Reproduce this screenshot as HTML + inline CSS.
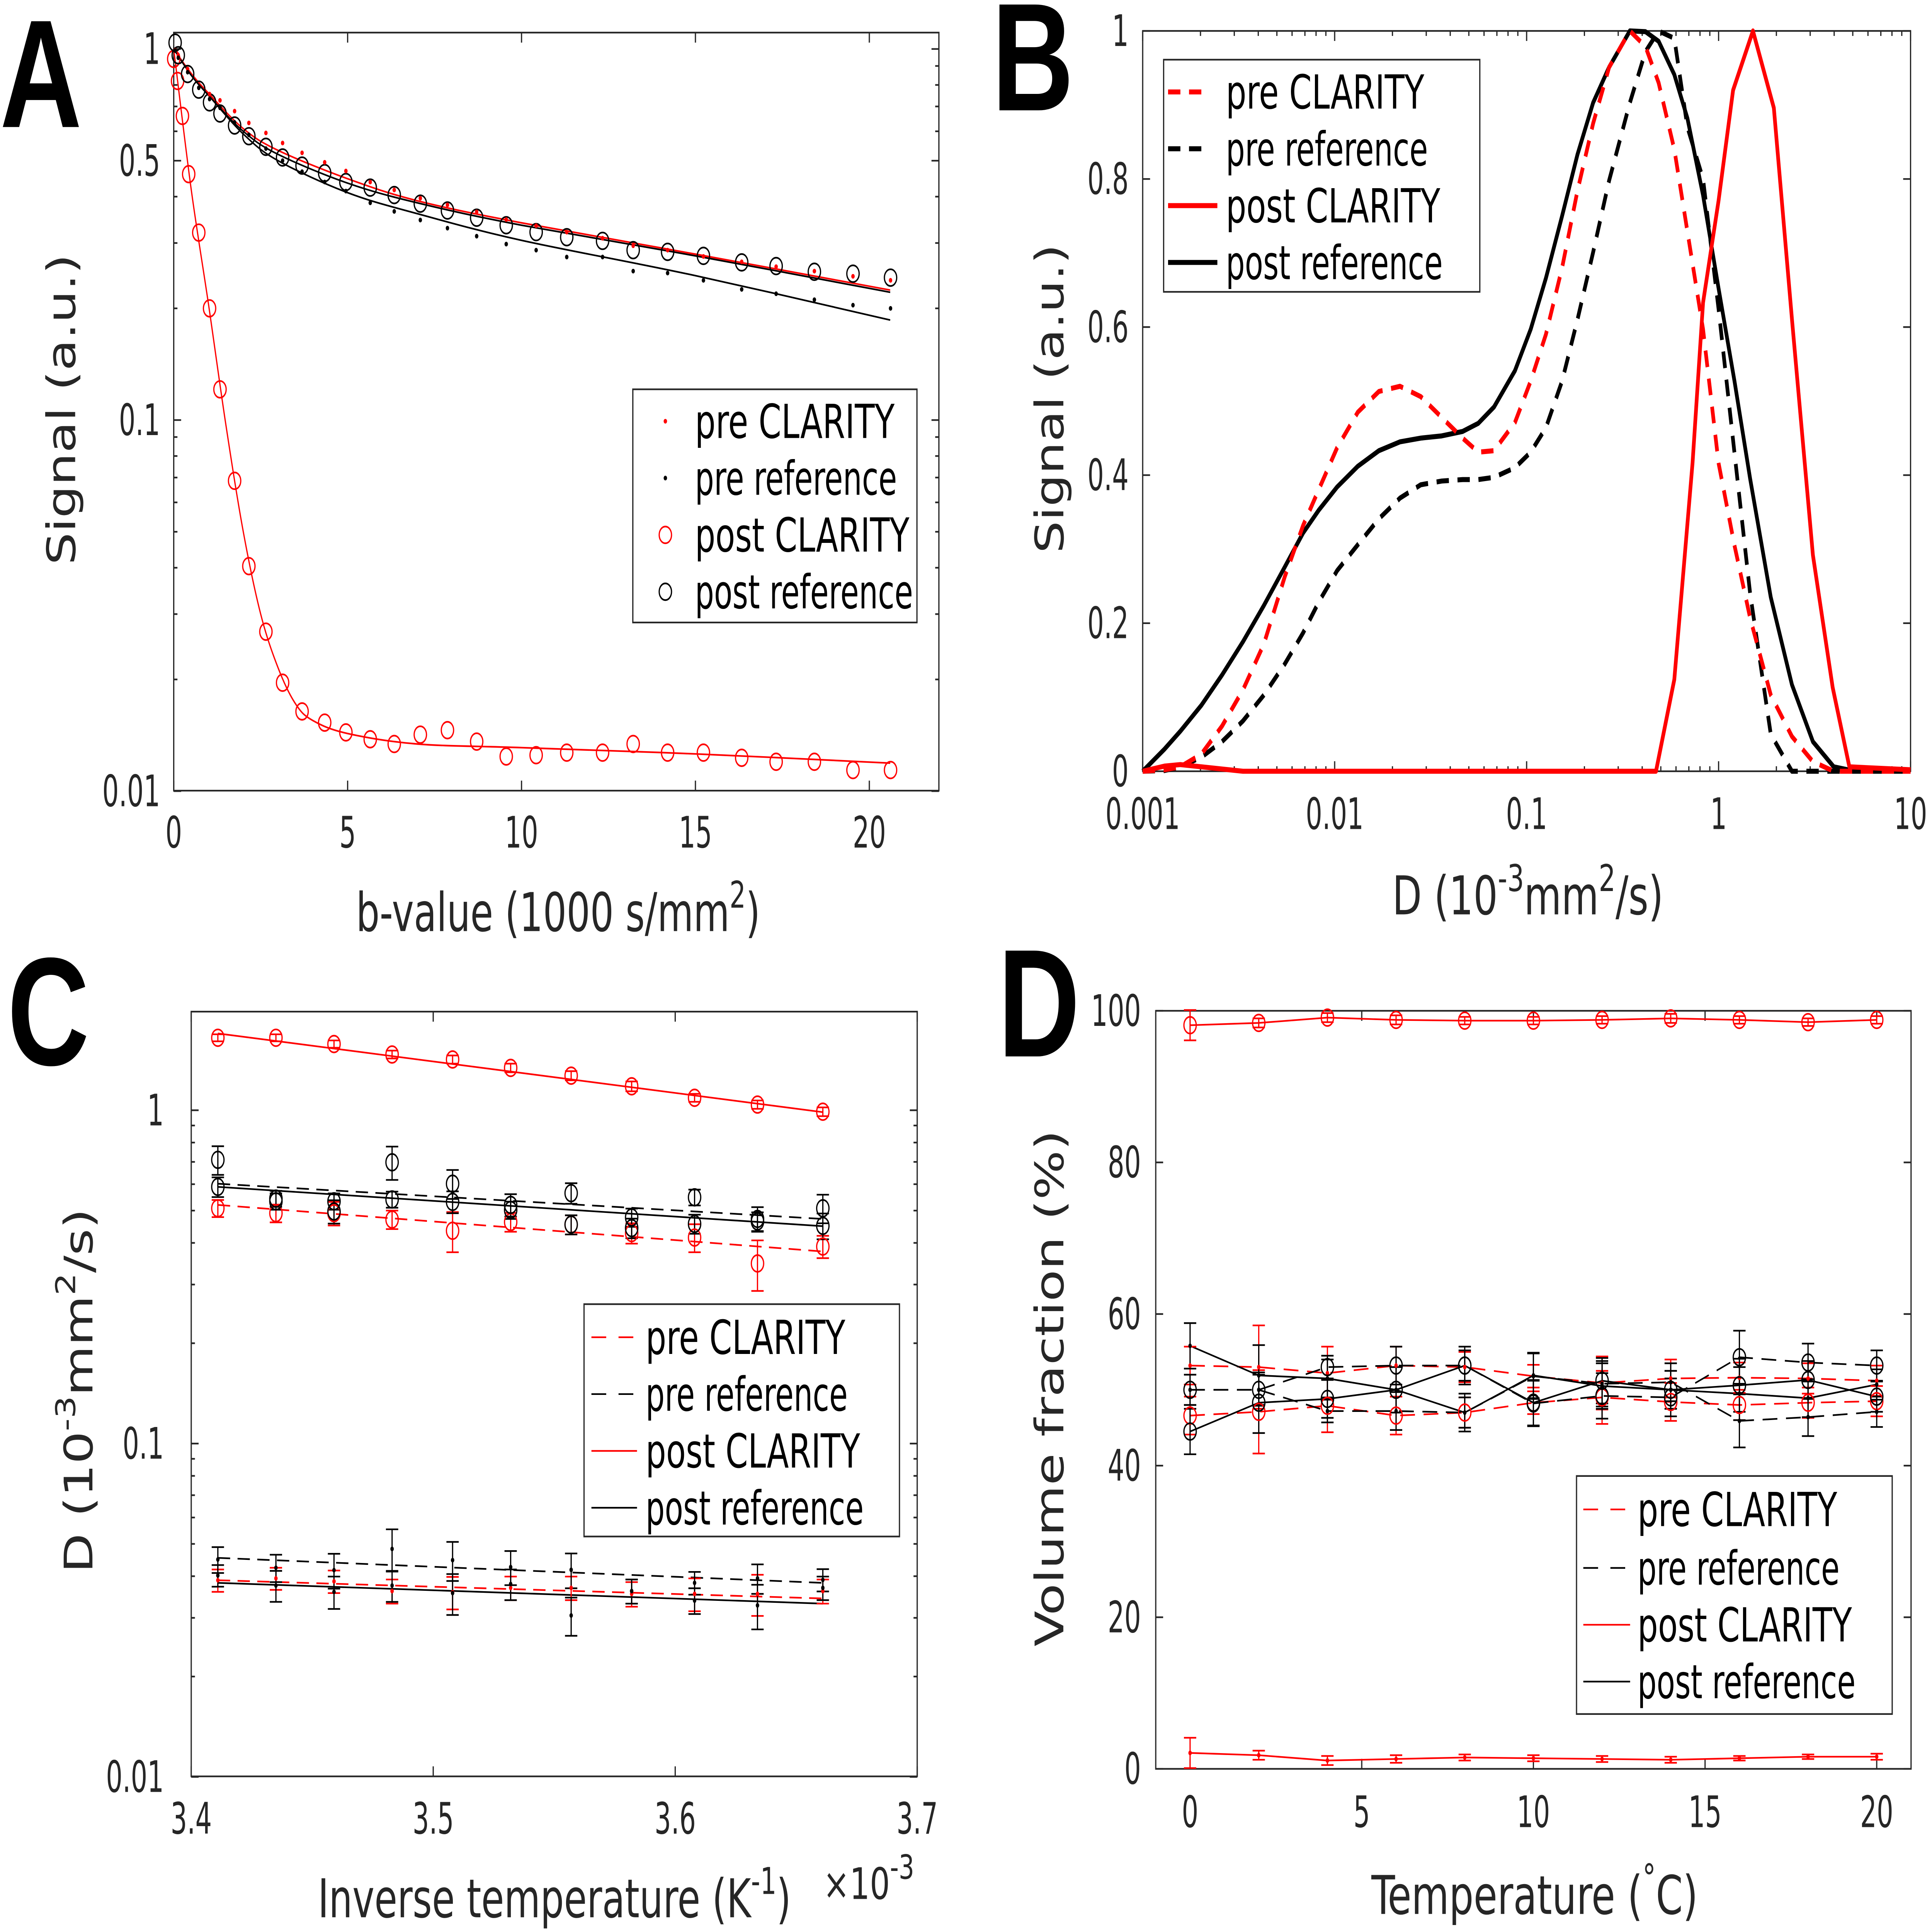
<!DOCTYPE html>
<html><head><meta charset="utf-8"><title>Diffusion figure</title>
<style>
html,body{margin:0;padding:0;background:#fff;width:100%;height:100%;overflow:hidden;}
svg{display:block;width:100vw;height:100vh;}
text{font-family:"DejaVu Sans Condensed","DejaVu Sans","Liberation Sans",sans-serif;font-stretch:condensed;fill:#262626;}
.tick{font-size:26px;}
.ttl{font-size:32px;}
.leg{font-size:28px;fill:#000;}
.letter{font-family:"Liberation Sans","DejaVu Sans",sans-serif;font-weight:bold;font-size:92px;fill:#000;}
</style></head>
<body>
<svg id="fig" xmlns="http://www.w3.org/2000/svg" viewBox="0 0 1568 1155.8" preserveAspectRatio="none">
<rect x="0" y="0" width="1568" height="1155.8" fill="#fff"/>
<text class="letter" x="0" y="76">A</text>
<text class="letter" x="805" y="66">B</text>
<text class="letter" x="6" y="637">C</text>
<text class="letter" x="810" y="632">D</text>
<text class="ttl" x="289" y="557" textLength="328" lengthAdjust="spacingAndGlyphs">b-value (1000 s/mm<tspan dy="-14" font-size="22">2</tspan><tspan dy="14">)</tspan></text>
<text class="ttl" transform="translate(61,338) rotate(-90)" textLength="186" lengthAdjust="spacingAndGlyphs">Signal (a.u.)</text>
<text class="ttl" x="1130" y="547" textLength="220" lengthAdjust="spacingAndGlyphs">D (10<tspan dy="-14" font-size="22">-3</tspan><tspan dy="14">mm</tspan><tspan dy="-14" font-size="22">2</tspan><tspan dy="14">/s)</tspan></text>
<text class="ttl" transform="translate(863,331) rotate(-90)" textLength="185" lengthAdjust="spacingAndGlyphs">Signal (a.u.)</text>
<text class="ttl" transform="translate(75,941) rotate(-90)" textLength="218" lengthAdjust="spacingAndGlyphs">D (10<tspan dy="-14" font-size="22">-3</tspan><tspan dy="14">mm</tspan><tspan dy="-14" font-size="22">2</tspan><tspan dy="14">/s)</tspan></text>
<text class="ttl" x="258" y="1147" textLength="384" lengthAdjust="spacingAndGlyphs">Inverse temperature (K<tspan dy="-14" font-size="22">-1</tspan><tspan dy="14">)</tspan></text>
<text class="tick" x="668" y="1136" textLength="74" lengthAdjust="spacingAndGlyphs">×10<tspan dy="-12" font-size="20">-3</tspan></text>
<text class="ttl" x="1113" y="1145" textLength="265" lengthAdjust="spacingAndGlyphs">Temperature (<tspan dy="-14" font-size="22">°</tspan><tspan dy="14">C)</tspan></text>
<text class="ttl" transform="translate(863,985) rotate(-90)" textLength="309" lengthAdjust="spacingAndGlyphs">Volume fraction (%)</text>
<g id="pA"></g>
<g id="pB"></g>
<g id="pC"></g>
<g id="pD"></g>
</svg>
<script>
// ---------- Panel A data ----------
const bClar = [0,0.11,0.25,0.43,0.72,1.03,1.33,1.75,2.16,2.65,3.13,3.69,4.34,4.95,5.65,6.34,7.09,7.87,8.71,9.56,10.42,11.3,12.33,13.21,14.2,15.23,16.33,17.32,18.42,19.53,20.61];
const postClaritySignal = [0.94,0.82,0.66,0.46,0.32,0.20,0.121,0.0686,0.0404,0.0269,0.0196,0.0164,0.0153,0.0144,0.0138,0.0134,0.0142,0.0146,0.0136,0.0124,0.0125,0.0127,0.0127,0.0134,0.0127,0.0127,0.0123,0.0120,0.0120,0.0114,0.0114];
const bRef = [0.04,0.13,0.4,0.72,1.03,1.33,1.75,2.16,2.65,3.13,3.69,4.34,4.95,5.65,6.34,7.09,7.87,8.71,9.56,10.42,11.3,12.33,13.21,14.2,15.23,16.33,17.32,18.42,19.53,20.61];
const preClaritySignal = [0.992,0.962,0.883,0.786,0.756,0.727,0.68,0.632,0.594,0.558,0.525,0.495,0.469,0.438,0.417,0.396,0.38,0.364,0.347,0.334,0.321,0.309,0.295,0.287,0.276,0.267,0.259,0.252,0.244,0.238];
const preRefSignal = [0.99,0.947,0.866,0.786,0.733,0.694,0.634,0.587,0.539,0.5,0.467,0.438,0.414,0.385,0.365,0.346,0.329,0.313,0.298,0.287,0.275,0.275,0.252,0.249,0.238,0.225,0.219,0.211,0.204,0.2];
const postRefSignal = [1.04,0.962,0.856,0.777,0.718,0.67,0.622,0.582,0.545,0.51,0.485,0.463,0.438,0.423,0.404,0.383,0.367,0.351,0.335,0.321,0.311,0.304,0.287,0.284,0.277,0.266,0.26,0.251,0.248,0.242];
const fitB1 = [0,0.5,1,1.5,2,2.5,3,3.5,4,5,7,10,15,20.6];
const fitPostClarity = [1,0.42,0.205,0.097,0.05,0.03,0.0215,0.0172,0.0155,0.0143,0.0134,0.0131,0.0126,0.0119];
const fitB2 = [0,0.5,1,2,3,5,7,10,15,20.6];
const fitPreClarity = [1,0.86,0.76,0.61,0.533,0.447,0.39,0.34,0.28,0.224];
const fitPostRef = [1,0.85,0.75,0.6,0.52,0.435,0.385,0.335,0.277,0.221];
const fitPreRef = [1,0.85,0.75,0.59,0.5,0.41,0.36,0.305,0.245,0.186];
const aXTicks = [0,5,10,15,20];
const aYTicks = [0.01,0.1,0.5,1];
const aYTickLabels = ["0.01","0.1","0.5","1"];

// ---------- Panel B data ----------
const gridD = [0.001,0.0013,0.00157,0.00202,0.00259,0.00333,0.00428,0.0055,0.00685,0.00828,0.0103,0.0132,0.017,0.0219,0.0281,0.0361,0.0464,0.056,0.0676,0.0869,0.105,0.126,0.153,0.184,0.222,0.269,0.345,0.416,0.487,0.588,0.688,0.83,1.0,1.21,1.46,1.87,2.41,3.1,3.98,5.12,10];
const bPreClarity = [0,0.002,0.006,0.023,0.061,0.110,0.172,0.263,0.332,0.381,0.437,0.485,0.513,0.520,0.506,0.478,0.450,0.431,0.433,0.471,0.527,0.590,0.680,0.784,0.875,0.951,1.0,0.979,0.930,0.840,0.729,0.597,0.416,0.305,0.207,0.103,0.047,0.013,0,0,0];
const bPreRef = [0,0.001,0.006,0.019,0.040,0.068,0.103,0.145,0.187,0.229,0.271,0.306,0.341,0.369,0.387,0.392,0.394,0.394,0.397,0.410,0.431,0.464,0.527,0.610,0.701,0.798,0.903,0.972,1.0,0.99,0.87,0.80,0.624,0.43,0.24,0.05,0,0,0,0,0];
const bPostRef = [0,0.030,0.054,0.089,0.130,0.175,0.224,0.276,0.322,0.353,0.384,0.412,0.433,0.445,0.450,0.453,0.459,0.470,0.492,0.541,0.597,0.666,0.750,0.833,0.903,0.951,1.0,0.999,0.986,0.941,0.882,0.778,0.652,0.527,0.395,0.235,0.117,0.040,0.006,0,0];
const dPostClarity = [0.001,0.0013,0.00157,0.00202,0.00333,0.472,0.588,0.732,0.830,1.00,1.19,1.51,1.94,2.41,3.10,3.93,4.80,10];
const bPostClarity = [0,0.007,0.009,0.006,0,0,0.124,0.417,0.633,0.771,0.920,1.0,0.896,0.611,0.292,0.113,0.006,0.002];
const bXTicks = [0.001,0.01,0.1,1,10];
const bXTickLabels = ["0.001","0.01","0.1","1","10"];
const bYTicks = [0,0.2,0.4,0.6,0.8,1];
const bYTickLabels = ["0","0.2","0.4","0.6","0.8","1"];

// ---------- Panel C data ----------
const invT = [3.411,3.435,3.459,3.483,3.508,3.532,3.557,3.582,3.608,3.634,3.661];
const cPostClarFast = [1.65,1.65,1.58,1.47,1.42,1.34,1.27,1.18,1.09,1.04,0.99];
const cPostClarFastErr = [0.04,0.04,0.04,0.04,0.04,0.04,0.04,0.04,0.03,0.03,0.03];
const cPreClarFast = [0.508,0.491,0.491,0.470,0.435,0.462,0.454,0.428,0.415,0.347,0.390];
const cPreClarFastErr = [0.03,0.03,0.04,0.03,0.06,0.03,0.03,0.03,0.04,0.06,0.03];
const cPreRefFast = [0.710,0.543,0.533,0.698,0.602,0.520,0.564,0.477,0.548,0.472,0.508];
const cPreRefFastErr = [0.07,0.03,0.03,0.08,0.06,0.04,0.04,0.03,0.03,0.04,0.05];
const cPostRefFast = [0.589,0.533,0.497,0.540,0.531,0.502,0.454,0.443,0.456,0.464,0.450];
const cPostRefFastErr = [0.04,0.03,0.04,0.03,0.04,0.03,0.03,0.03,0.03,0.03,0.04];
const cPreClarSlow = [0.0389,0.0394,0.0386,0.0361,0.0358,0.0369,0.0369,0.0354,0.0354,0.0354,0.0361];
const cPreClarSlowErr = [0.003,0.003,0.003,0.003,0.004,0.003,0.003,0.003,0.004,0.005,0.003];
const cPreRefSlow = [0.0449,0.0424,0.0417,0.0483,0.0447,0.0426,0.0418,0.0361,0.0382,0.0394,0.0390];
const cPreRefSlowErr = [0.004,0.004,0.005,0.007,0.006,0.005,0.005,0.003,0.003,0.004,0.003];
const cPostRefSlow = [0.0402,0.0375,0.0359,0.0375,0.0356,0.0379,0.0305,0.0361,0.0338,0.0327,0.0369];
const cPostRefSlowErr = [0.003,0.004,0.004,0.004,0.005,0.004,0.004,0.003,0.003,0.005,0.003];
const cFitX = [3.411,3.661];
const cFitPostClarFast = [1.70,0.987];
const cFitPreClarFast = [0.52,0.377];
const cFitPreRefFast = [0.602,0.472];
const cFitPostRefFast = [0.589,0.449];
const cFitPreClarSlow = [0.0389,0.0343];
const cFitPreRefSlow = [0.0454,0.0382];
const cFitPostRefSlow = [0.0382,0.0331];
const cXTicks = [3.4,3.5,3.6,3.7];
const cXTickLabels = ["3.4","3.5","3.6","3.7"];
const cYTicks = [0.01,0.1,1];
const cYTickLabels = ["0.01","0.1","1"];

// ---------- Panel D data ----------
const temps = [0,2,4,6,8,10,12,14,16,18,20];
const dPostClarMain = [98.1,98.4,99.1,98.8,98.7,98.7,98.8,99.0,98.8,98.5,98.8];
const dPostClarMainErr = [2.0,0.6,0.6,0.6,0.5,0.5,0.5,0.6,0.5,0.5,0.5];
const dPostClarMinor = [2.1,1.8,1.1,1.3,1.5,1.4,1.3,1.2,1.4,1.6,1.6];
const dPostClarMinorErr = [2.0,0.6,0.6,0.5,0.4,0.4,0.4,0.4,0.3,0.3,0.4];
const dPreClar1 = [53.2,53.0,52.2,53.2,53.0,51.8,50.9,51.5,51.6,51.5,51.2];
const dPreClar2 = [46.6,47.1,47.9,46.6,47.0,48.3,49.0,48.4,48.0,48.3,48.5];
const dPreClarErr = [2.5,5.5,3.5,2.5,2,1.5,3.5,2.5,2,2,2];
const dPreRef1 = [50,50,53,53.2,53.2,48.2,49.2,49,54.3,53.6,53.2];
const dPreRef2 = [50,50,47.2,47.2,47,51.8,50.8,51,45.9,46.4,47.1];
const dPreRefErr = [2,2,1.5,2.5,2,3,3,2.5,3.5,2.5,2];
const dPostRef1 = [55.8,51.9,51.5,50,47,51.9,50.5,50,49.5,48.9,50.7];
const dPostRef2 = [44.5,48.3,48.8,50,53.2,48.3,51.2,50,50.6,51.3,49.1];
const dPostRefErr = [3,4,2.5,3,2.5,3,3,2.5,3.5,2.5,2];
const dXTicks = [0,5,10,15,20];
const dXTickLabels = ["0","5","10","15","20"];
const dYTicks = [0,20,40,60,80,100];
const dYTickLabels = ["0","20","40","60","80","100"];

// ---------- helpers ----------
const NS = 'http://www.w3.org/2000/svg';
function add(parent, tag, attrs) {
  const e = document.createElementNS(NS, tag);
  for (const k in attrs) e.setAttribute(k, attrs[k]);
  parent.appendChild(e);
  return e;
}
function named(e, name) {
  
  
  return e;
}
const RED = '#ff0000', BLK = '#000000', AX = '#262626';
const L10 = Math.log10;

function frame(g, box, name) {
  const r = add(g, 'rect', {x: box.x0, y: box.y0, width: box.x1 - box.x0, height: box.y1 - box.y0, fill: 'none', stroke: AX, 'stroke-width': 1});
  named(r, name);
}
function xTick(g, box, px, len, name) {
  const t1 = add(g, 'line', {x1: px, x2: px, y1: box.y1, y2: box.y1 - len, stroke: AX, 'stroke-width': 1});
  named(t1, name);
  const t2 = add(g, 'line', {x1: px, x2: px, y1: box.y0, y2: box.y0 + len, stroke: AX, 'stroke-width': 1});
  named(t2, name);
}
function yTick(g, box, py, len, name) {
  const t1 = add(g, 'line', {x1: box.x0, x2: box.x0 + len, y1: py, y2: py, stroke: AX, 'stroke-width': 1});
  named(t1, name);
  const t2 = add(g, 'line', {x1: box.x1, x2: box.x1 - len, y1: py, y2: py, stroke: AX, 'stroke-width': 1});
  named(t2, name);
}
function labelWidth(txt) {
  let w = 0;
  for (const ch of txt) w += (ch === '.') ? 6.5 : 13.5;
  return w;
}
function label(g, x, y, txt, anchor, name) {
  const t = add(g, 'text', {x: x, y: y, 'text-anchor': anchor, class: 'tick', textLength: labelWidth(txt), lengthAdjust: 'spacingAndGlyphs'});
  t.textContent = txt;
  named(t, name);
}
function polyline(g, xs, ys, sx, sy, color, width, dash, name) {
  const pts = xs.map((v, i) => sx(v).toFixed(2) + ',' + sy(ys[i]).toFixed(2)).join(' ');
  const attrs = {points: pts, fill: 'none', stroke: color, 'stroke-width': width, 'stroke-linejoin': 'round'};
  if (dash) attrs['stroke-dasharray'] = dash;
  const p = add(g, 'polyline', attrs);
  named(p, name);
}
function smooth(g, xs, ys, sx, sy, color, width, name) {
  const P = xs.map((v, i) => [sx(v), sy(ys[i])]);
  let d = 'M' + P[0][0] + ',' + P[0][1];
  for (let i = 0; i < P.length - 1; i++) {
    const p0 = P[Math.max(0, i - 1)], p1 = P[i], p2 = P[i + 1], p3 = P[Math.min(P.length - 1, i + 2)];
    const c1x = p1[0] + (p2[0] - p0[0]) / 6, c1y = p1[1] + (p2[1] - p0[1]) / 6;
    const c2x = p2[0] - (p3[0] - p1[0]) / 6, c2y = p2[1] - (p3[1] - p1[1]) / 6;
    d += ' C' + c1x.toFixed(2) + ',' + c1y.toFixed(2) + ' ' + c2x.toFixed(2) + ',' + c2y.toFixed(2) + ' ' + p2[0].toFixed(2) + ',' + p2[1].toFixed(2);
  }
  const p = add(g, 'path', {d: d, fill: 'none', stroke: color, 'stroke-width': width});
  named(p, name);
}
function circles(g, xs, ys, sx, sy, color, r, name) {
  xs.forEach((v, i) => {
    const c = add(g, 'circle', {cx: sx(v), cy: sy(ys[i]), r: r, fill: 'none', stroke: color, 'stroke-width': 1});
    named(c, name);
  });
}
function dots(g, xs, ys, sx, sy, color, r, name) {
  xs.forEach((v, i) => {
    const c = add(g, 'circle', {cx: sx(v), cy: sy(ys[i]), r: r, fill: color});
    named(c, name);
  });
}
function errbars(g, xs, ys, es, sx, sy, color, cap, name) {
  xs.forEach((v, i) => {
    const px = sx(v), ya = sy(ys[i] + es[i]), yb = sy(Math.max(ys[i] - es[i], 1e-6));
    const e1 = add(g, 'line', {x1: px, x2: px, y1: ya, y2: yb, stroke: color, 'stroke-width': 1});
    named(e1, name);
    const e2 = add(g, 'line', {x1: px - cap, x2: px + cap, y1: ya, y2: ya, stroke: color, 'stroke-width': 1});
    named(e2, name + '-cap');
    const e3 = add(g, 'line', {x1: px - cap, x2: px + cap, y1: yb, y2: yb, stroke: color, 'stroke-width': 1});
    named(e3, name + '-cap');
  });
}
function legendBox(g, x0, y0, x1, y1, name) {
  const r = add(g, 'rect', {x: x0, y: y0, width: x1 - x0, height: y1 - y0, fill: '#fff', stroke: AX, 'stroke-width': 1});
  named(r, name);
}
function legendText(g, x, y, txt, len, name) {
  const t = add(g, 'text', {x: x, y: y, class: 'leg', textLength: len, lengthAdjust: 'spacingAndGlyphs'});
  t.textContent = txt;
  named(t, name);
}
function legendLine(g, x0, x1, y, color, width, dash, name) {
  const attrs = {x1: x0, x2: x1, y1: y, y2: y, stroke: color, 'stroke-width': width};
  if (dash) attrs['stroke-dasharray'] = dash;
  const l = add(g, 'line', attrs);
  named(l, name);
}

// ---------- Panel A ----------
(function () {
  const g = document.getElementById('pA');
  const box = {x0: 141, x1: 762, y0: 19.5, y1: 473};
  const sx = b => box.x0 + b * (box.x1 - box.x0) / 22;
  const sy = v => 29.3 - 222 * L10(v);
  frame(g, box, 'panel-a-axes-box');
  aXTicks.forEach(t => { xTick(g, box, sx(t), 6, 'panel-a-x-tick'); label(g, sx(t), 507, String(t), 'middle', 'panel-a-x-tick-label'); });
  [0.02,0.03,0.04,0.05,0.06,0.07,0.08,0.09,0.2,0.3,0.4,0.6,0.7,0.8,0.9].forEach(t => yTick(g, box, sy(t), 3, 'panel-a-y-minor-tick'));
  aYTicks.forEach((t, i) => { yTick(g, box, sy(t), 6, 'panel-a-y-tick'); label(g, 130, sy(t) + 9, aYTickLabels[i], 'end', 'panel-a-y-tick-label'); });
  smooth(g, fitB1, fitPostClarity, sx, sy, RED, 1, 'post-clarity-fit-line');
  smooth(g, fitB2, fitPreClarity, sx, sy, RED, 1, 'pre-clarity-fit-line');
  smooth(g, fitB2, fitPostRef, sx, sy, BLK, 1, 'post-reference-fit-line');
  smooth(g, fitB2, fitPreRef, sx, sy, BLK, 1, 'pre-reference-fit-line');
  circles(g, bClar, postClaritySignal, sx, sy, RED, 5, 'post-clarity-point');
  circles(g, bRef, postRefSignal, sx, sy, BLK, 5, 'post-reference-point');
  dots(g, bRef, preClaritySignal, sx, sy, RED, 1.4, 'pre-clarity-point');
  dots(g, bRef, preRefSignal, sx, sy, BLK, 1.4, 'pre-reference-point');
  legendBox(g, 513.6, 232.9, 744.2, 372.4, 'panel-a-legend');
  const ly = [252, 286, 320, 354];
  const ld = add(g, 'circle', {cx: 540, cy: ly[0], r: 1.4, fill: RED});
  named(ld, 'legend-pre-clarity-marker');
  const ld2 = add(g, 'circle', {cx: 540, cy: ly[1], r: 1.4, fill: BLK});
  named(ld2, 'legend-pre-reference-marker');
  const lc = add(g, 'circle', {cx: 540, cy: ly[2], r: 5, fill: 'none', stroke: RED, 'stroke-width': 1});
  named(lc, 'legend-post-clarity-marker');
  const lc2 = add(g, 'circle', {cx: 540, cy: ly[3], r: 5, fill: 'none', stroke: BLK, 'stroke-width': 1});
  named(lc2, 'legend-post-reference-marker');
  legendText(g, 564, ly[0] + 10, 'pre CLARITY', 162, 'legend-pre-clarity-label');
  legendText(g, 564, ly[1] + 10, 'pre reference', 164, 'legend-pre-reference-label');
  legendText(g, 564, ly[2] + 10, 'post CLARITY', 174, 'legend-post-clarity-label');
  legendText(g, 564, ly[3] + 10, 'post reference', 177, 'legend-post-reference-label');
})();

// ---------- Panel B ----------
(function () {
  const g = document.getElementById('pB');
  const box = {x0: 927.4, x1: 1550.6, y0: 18.5, y1: 461.4};
  const sx = d => box.x0 + (L10(d) + 3) * (box.x1 - box.x0) / 4;
  const sy = s => box.y1 - s * (box.y1 - box.y0);
  frame(g, box, 'panel-b-axes-box');
  [0.001,0.01,0.1,1].forEach(dec => { for (let m = 2; m <= 9; m++) xTick(g, box, sx(dec * m), 3, 'panel-b-x-minor-tick'); });
  bXTicks.forEach((t, i) => { xTick(g, box, sx(t), 6, 'panel-b-x-tick'); label(g, sx(t), 496, bXTickLabels[i], 'middle', 'panel-b-x-tick-label'); });
  bYTicks.forEach((t, i) => { yTick(g, box, sy(t), 6, 'panel-b-y-tick'); label(g, 916, sy(t) + 9, bYTickLabels[i], 'end', 'panel-b-y-tick-label'); });
  polyline(g, gridD, bPostRef, sx, sy, BLK, 3, null, 'post-reference-distribution');
  polyline(g, gridD, bPreRef, sx, sy, BLK, 3, '10 7', 'pre-reference-distribution');
  polyline(g, gridD, bPreClarity, sx, sy, RED, 3, '10 7', 'pre-clarity-distribution');
  polyline(g, dPostClarity, bPostClarity, sx, sy, RED, 3, null, 'post-clarity-distribution');
  legendBox(g, 944.4, 35.7, 1201, 174.6, 'panel-b-legend');
  const ly = [55, 89, 123, 157];
  legendLine(g, 948, 982, ly[0], RED, 3, '10 7', 'legend-pre-clarity-line');
  legendLine(g, 948, 982, ly[1], BLK, 3, '10 7', 'legend-pre-reference-line');
  legendLine(g, 948, 988, ly[2], RED, 3, null, 'legend-post-clarity-line');
  legendLine(g, 948, 988, ly[3], BLK, 3, null, 'legend-post-reference-line');
  legendText(g, 994.9, ly[0] + 10, 'pre CLARITY', 161, 'legend-pre-clarity-label');
  legendText(g, 994.9, ly[1] + 10, 'pre reference', 164, 'legend-pre-reference-label');
  legendText(g, 994.9, ly[2] + 10, 'post CLARITY', 174, 'legend-post-clarity-label');
  legendText(g, 994.9, ly[3] + 10, 'post reference', 176, 'legend-post-reference-label');
})();

// ---------- Panel C ----------
(function () {
  const g = document.getElementById('pC');
  const box = {x0: 155.2, x1: 744.4, y0: 605.2, y1: 1062.7};
  const sx = t => box.x0 + (t - 3.4) * (box.x1 - box.x0) / 0.3;
  const sy = v => 664.2 - 199.4 * L10(v);
  frame(g, box, 'panel-c-axes-box');
  cXTicks.forEach((t, i) => { xTick(g, box, sx(t), 6, 'panel-c-x-tick'); label(g, sx(t), 1097, cXTickLabels[i], 'middle', 'panel-c-x-tick-label'); });
  [0.02,0.03,0.04,0.05,0.06,0.07,0.08,0.09,0.2,0.3,0.4,0.5,0.6,0.7,0.8,0.9].forEach(t => yTick(g, box, sy(t), 3, 'panel-c-y-minor-tick'));
  cYTicks.forEach((t, i) => { yTick(g, box, sy(t), 6, 'panel-c-y-tick'); label(g, 133, sy(t) + 9, cYTickLabels[i], 'end', 'panel-c-y-tick-label'); });
  polyline(g, cFitX, cFitPostClarFast, sx, sy, RED, 1, null, 'post-clarity-fast-fit');
  polyline(g, cFitX, cFitPreClarFast, sx, sy, RED, 1, '10 6', 'pre-clarity-fast-fit');
  polyline(g, cFitX, cFitPreRefFast, sx, sy, BLK, 1, '10 6', 'pre-reference-fast-fit');
  polyline(g, cFitX, cFitPostRefFast, sx, sy, BLK, 1, null, 'post-reference-fast-fit');
  polyline(g, cFitX, cFitPreClarSlow, sx, sy, RED, 1, '10 6', 'pre-clarity-slow-fit');
  polyline(g, cFitX, cFitPreRefSlow, sx, sy, BLK, 1, '10 6', 'pre-reference-slow-fit');
  polyline(g, cFitX, cFitPostRefSlow, sx, sy, BLK, 1, null, 'post-reference-slow-fit');
  errbars(g, invT, cPostClarFast, cPostClarFastErr, sx, sy, RED, 5, 'post-clarity-fast-errorbar');
  errbars(g, invT, cPreClarFast, cPreClarFastErr, sx, sy, RED, 5, 'pre-clarity-fast-errorbar');
  errbars(g, invT, cPreRefFast, cPreRefFastErr, sx, sy, BLK, 5, 'pre-reference-fast-errorbar');
  errbars(g, invT, cPostRefFast, cPostRefFastErr, sx, sy, BLK, 5, 'post-reference-fast-errorbar');
  errbars(g, invT, cPreClarSlow, cPreClarSlowErr, sx, sy, RED, 5, 'pre-clarity-slow-errorbar');
  errbars(g, invT, cPreRefSlow, cPreRefSlowErr, sx, sy, BLK, 5, 'pre-reference-slow-errorbar');
  errbars(g, invT, cPostRefSlow, cPostRefSlowErr, sx, sy, BLK, 5, 'post-reference-slow-errorbar');
  circles(g, invT, cPostClarFast, sx, sy, RED, 5, 'post-clarity-fast-point');
  circles(g, invT, cPreClarFast, sx, sy, RED, 5, 'pre-clarity-fast-point');
  circles(g, invT, cPreRefFast, sx, sy, BLK, 5, 'pre-reference-fast-point');
  circles(g, invT, cPostRefFast, sx, sy, BLK, 5, 'post-reference-fast-point');
  dots(g, invT, cPreClarSlow, sx, sy, RED, 1.4, 'pre-clarity-slow-point');
  dots(g, invT, cPreRefSlow, sx, sy, BLK, 1.4, 'pre-reference-slow-point');
  dots(g, invT, cPostRefSlow, sx, sy, BLK, 1.4, 'post-reference-slow-point');
  legendBox(g, 474, 780.2, 730, 919.2, 'panel-c-legend');
  const ly = [800, 834, 868, 902];
  legendLine(g, 480, 517, ly[0], RED, 1, '12 10', 'legend-pre-clarity-line');
  legendLine(g, 480, 517, ly[1], BLK, 1, '12 10', 'legend-pre-reference-line');
  legendLine(g, 480, 517, ly[2], RED, 1, null, 'legend-post-clarity-line');
  legendLine(g, 480, 517, ly[3], BLK, 1, null, 'legend-post-reference-line');
  legendText(g, 524, ly[0] + 10, 'pre CLARITY', 162, 'legend-pre-clarity-label');
  legendText(g, 524, ly[1] + 10, 'pre reference', 164, 'legend-pre-reference-label');
  legendText(g, 524, ly[2] + 10, 'post CLARITY', 174, 'legend-post-clarity-label');
  legendText(g, 524, ly[3] + 10, 'post reference', 177, 'legend-post-reference-label');
})();

// ---------- Panel D ----------
(function () {
  const g = document.getElementById('pD');
  const box = {x0: 938, x1: 1551, y0: 604.7, y1: 1058.2};
  const sx = t => box.x0 + (t + 1) * (box.x1 - box.x0) / 22;
  const sy = p => box.y1 - p * (box.y1 - box.y0) / 100;
  frame(g, box, 'panel-d-axes-box');
  dXTicks.forEach((t, i) => { xTick(g, box, sx(t), 6, 'panel-d-x-tick'); label(g, sx(t), 1093, dXTickLabels[i], 'middle', 'panel-d-x-tick-label'); });
  dYTicks.forEach((t, i) => { yTick(g, box, sy(t), 6, 'panel-d-y-tick'); label(g, 926, sy(t) + 9, dYTickLabels[i], 'end', 'panel-d-y-tick-label'); });
  polyline(g, temps, dPostClarMain, sx, sy, RED, 1, null, 'post-clarity-main-fraction-line');
  polyline(g, temps, dPostClarMinor, sx, sy, RED, 1, null, 'post-clarity-minor-fraction-line');
  polyline(g, temps, dPreClar1, sx, sy, RED, 1, '12 7', 'pre-clarity-fraction1-line');
  polyline(g, temps, dPreClar2, sx, sy, RED, 1, '12 7', 'pre-clarity-fraction2-line');
  polyline(g, temps, dPreRef1, sx, sy, BLK, 1, '12 7', 'pre-reference-fraction1-line');
  polyline(g, temps, dPreRef2, sx, sy, BLK, 1, '12 7', 'pre-reference-fraction2-line');
  polyline(g, temps, dPostRef1, sx, sy, BLK, 1, null, 'post-reference-fraction1-line');
  polyline(g, temps, dPostRef2, sx, sy, BLK, 1, null, 'post-reference-fraction2-line');
  errbars(g, temps, dPostClarMain, dPostClarMainErr, sx, sy, RED, 5, 'post-clarity-main-errorbar');
  errbars(g, temps, dPostClarMinor, dPostClarMinorErr, sx, sy, RED, 5, 'post-clarity-minor-errorbar');
  errbars(g, temps, dPreClar1, dPreClarErr, sx, sy, RED, 5, 'pre-clarity-fraction1-errorbar');
  errbars(g, temps, dPreClar2, dPreClarErr, sx, sy, RED, 5, 'pre-clarity-fraction2-errorbar');
  errbars(g, temps, dPreRef1, dPreRefErr, sx, sy, BLK, 5, 'pre-reference-fraction1-errorbar');
  errbars(g, temps, dPreRef2, dPreRefErr, sx, sy, BLK, 5, 'pre-reference-fraction2-errorbar');
  errbars(g, temps, dPostRef1, dPostRefErr, sx, sy, BLK, 5, 'post-reference-fraction1-errorbar');
  errbars(g, temps, dPostRef2, dPostRefErr, sx, sy, BLK, 5, 'post-reference-fraction2-errorbar');
  circles(g, temps, dPostClarMain, sx, sy, RED, 5, 'post-clarity-main-point');
  dots(g, temps, dPostClarMinor, sx, sy, RED, 1.4, 'post-clarity-minor-point');
  dots(g, temps, dPreClar1, sx, sy, RED, 1.4, 'pre-clarity-fraction1-point');
  circles(g, temps, dPreClar2, sx, sy, RED, 5, 'pre-clarity-fraction2-point');
  circles(g, temps, dPreRef1, sx, sy, BLK, 5, 'pre-reference-fraction1-point');
  dots(g, temps, dPreRef2, sx, sy, BLK, 1.4, 'pre-reference-fraction2-point');
  dots(g, temps, dPostRef1, sx, sy, BLK, 1.4, 'post-reference-fraction1-point');
  circles(g, temps, dPostRef2, sx, sy, BLK, 5, 'post-reference-fraction2-point');
  legendBox(g, 1279.5, 883, 1535.7, 1025.4, 'panel-d-legend');
  const ly = [903, 938, 972, 1006];
  legendLine(g, 1285, 1323, ly[0], RED, 1, '12 10', 'legend-pre-clarity-line');
  legendLine(g, 1285, 1323, ly[1], BLK, 1, '12 10', 'legend-pre-reference-line');
  legendLine(g, 1285, 1323, ly[2], RED, 1, null, 'legend-post-clarity-line');
  legendLine(g, 1285, 1323, ly[3], BLK, 1, null, 'legend-post-reference-line');
  legendText(g, 1329, ly[0] + 10, 'pre CLARITY', 162, 'legend-pre-clarity-label');
  legendText(g, 1329, ly[1] + 10, 'pre reference', 164, 'legend-pre-reference-label');
  legendText(g, 1329, ly[2] + 10, 'post CLARITY', 174, 'legend-post-clarity-label');
  legendText(g, 1329, ly[3] + 10, 'post reference', 177, 'legend-post-reference-label');
})();
</script>
</body></html>
